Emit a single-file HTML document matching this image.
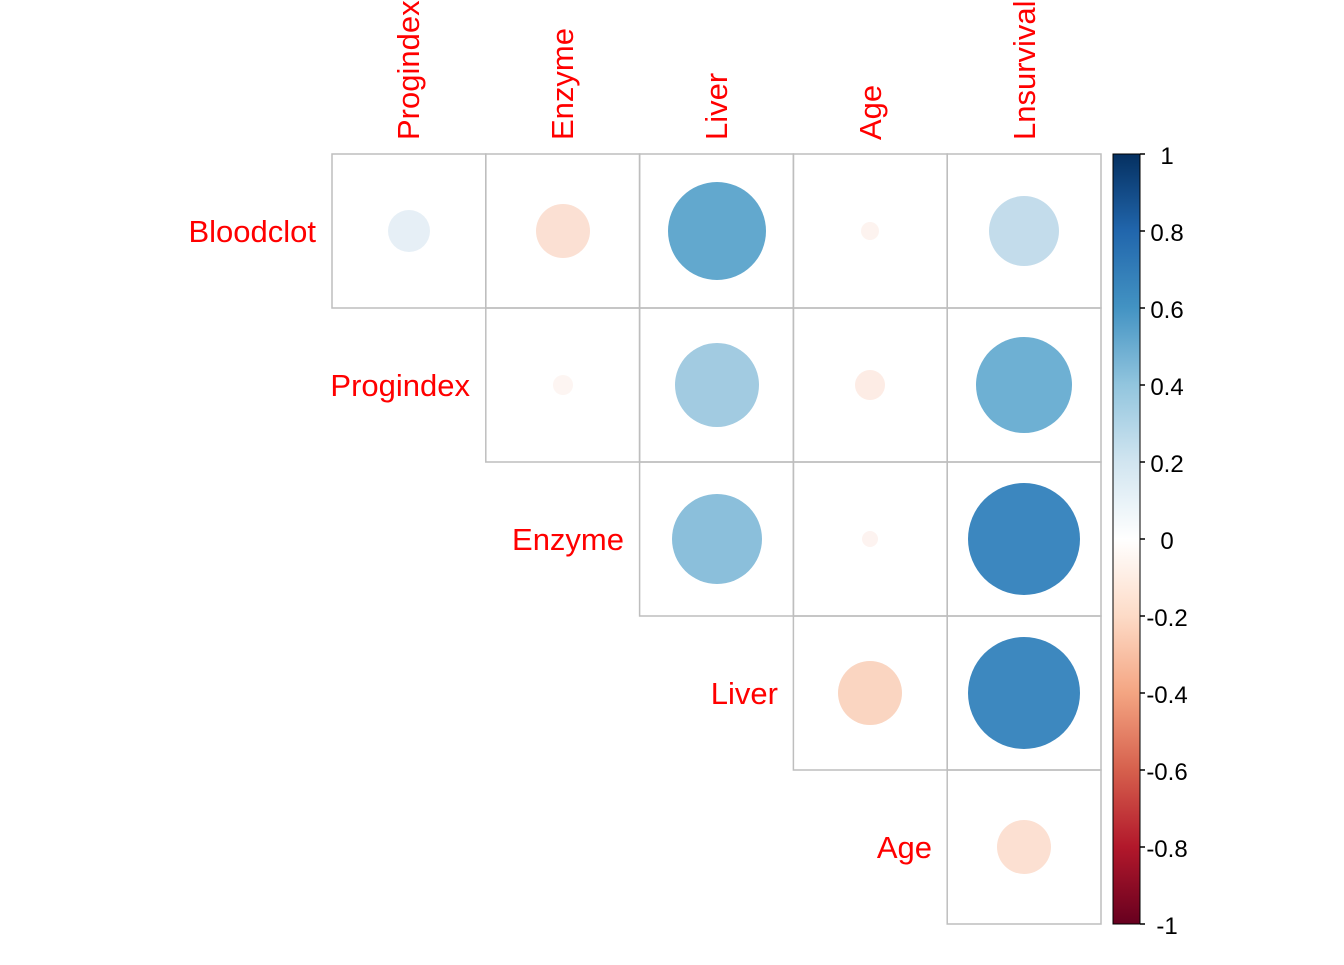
<!DOCTYPE html>
<html><head><meta charset="utf-8"><style>body{margin:0;background:#fff}</style></head><body>
<svg width="1344" height="960" xmlns="http://www.w3.org/2000/svg" font-family="Liberation Sans, Arial, sans-serif">
<defs>
<linearGradient id="g" x1="0" y1="0" x2="0" y2="1">
<stop offset="0" stop-color="#053061"/><stop offset="0.1" stop-color="#2166ac"/><stop offset="0.2" stop-color="#4393c3"/><stop offset="0.3" stop-color="#92c5de"/><stop offset="0.4" stop-color="#d1e5f0"/><stop offset="0.5" stop-color="#ffffff"/><stop offset="0.6" stop-color="#fddbc7"/><stop offset="0.7" stop-color="#f4a582"/><stop offset="0.8" stop-color="#d6604d"/><stop offset="0.9" stop-color="#b2182b"/><stop offset="1" stop-color="#67001f"/>
</linearGradient>
</defs>
<g fill="none" stroke="#bebebe" stroke-width="1.5">
<rect x="332" y="154" width="153.8" height="154"/><rect x="485.8" y="154" width="153.8" height="154"/><rect x="639.6" y="154" width="153.8" height="154"/><rect x="793.4" y="154" width="153.8" height="154"/><rect x="947.2" y="154" width="153.8" height="154"/>
<rect x="485.8" y="308" width="153.8" height="154"/><rect x="639.6" y="308" width="153.8" height="154"/><rect x="793.4" y="308" width="153.8" height="154"/><rect x="947.2" y="308" width="153.8" height="154"/>
<rect x="639.6" y="462" width="153.8" height="154"/><rect x="793.4" y="462" width="153.8" height="154"/><rect x="947.2" y="462" width="153.8" height="154"/>
<rect x="793.4" y="616" width="153.8" height="154"/><rect x="947.2" y="616" width="153.8" height="154"/>
<rect x="947.2" y="770" width="153.8" height="154"/>
</g>
<circle cx="409" cy="231" r="21" fill="#e6eff6"/>
<circle cx="563" cy="231" r="27" fill="#fbe0d3"/>
<circle cx="717" cy="231" r="49" fill="#62a8ce"/>
<circle cx="870" cy="231" r="9" fill="#fdf3ef"/>
<circle cx="1024" cy="231" r="35" fill="#c3dceb"/>
<circle cx="563" cy="385" r="10" fill="#fdf5f2"/>
<circle cx="717" cy="385" r="42" fill="#a2cbe1"/>
<circle cx="870" cy="385" r="15" fill="#fdece5"/>
<circle cx="1024" cy="385" r="48" fill="#6eb0d3"/>
<circle cx="717" cy="539" r="45" fill="#8bbfdb"/>
<circle cx="870" cy="539" r="8" fill="#fdf3f0"/>
<circle cx="1024" cy="539" r="56" fill="#3c87bf"/>
<circle cx="870" cy="693" r="32" fill="#fad5c1"/>
<circle cx="1024" cy="693" r="56" fill="#3d88bf"/>
<circle cx="1024" cy="847" r="27" fill="#fce0d2"/>
<g fill="#ff0000" font-size="31">
<text transform="translate(419,140) rotate(-90)">Progindex</text>
<text transform="translate(573,140) rotate(-90)">Enzyme</text>
<text transform="translate(727,140) rotate(-90)">Liver</text>
<text transform="translate(881,140) rotate(-90)">Age</text>
<text transform="translate(1035,140) rotate(-90)">Lnsurvival</text>
<g text-anchor="end">
<text x="316" y="242">Bloodclot</text>
<text x="470" y="396">Progindex</text>
<text x="624" y="550">Enzyme</text>
<text x="778" y="704">Liver</text>
<text x="932" y="858">Age</text>
</g></g>
<rect x="1113" y="154" width="27" height="770" fill="url(#g)" stroke="#000" stroke-width="1"/>
<g stroke="#000" stroke-width="1.5">
<line x1="1140" x2="1145" y1="154" y2="154"/><line x1="1140" x2="1145" y1="231" y2="231"/><line x1="1140" x2="1145" y1="308" y2="308"/><line x1="1140" x2="1145" y1="385" y2="385"/><line x1="1140" x2="1145" y1="462" y2="462"/><line x1="1140" x2="1145" y1="539" y2="539"/><line x1="1140" x2="1145" y1="616" y2="616"/><line x1="1140" x2="1145" y1="693" y2="693"/><line x1="1140" x2="1145" y1="770" y2="770"/><line x1="1140" x2="1145" y1="847" y2="847"/><line x1="1140" x2="1145" y1="924" y2="924"/>
</g>
<g font-size="24" fill="#000" text-anchor="middle">
<text x="1167" y="164">1</text><text x="1167" y="241">0.8</text><text x="1167" y="318">0.6</text><text x="1167" y="395">0.4</text><text x="1167" y="472">0.2</text><text x="1167" y="549">0</text><text x="1167" y="626">-0.2</text><text x="1167" y="703">-0.4</text><text x="1167" y="780">-0.6</text><text x="1167" y="857">-0.8</text><text x="1167" y="934">-1</text>
</g>
</svg>
</body></html>
